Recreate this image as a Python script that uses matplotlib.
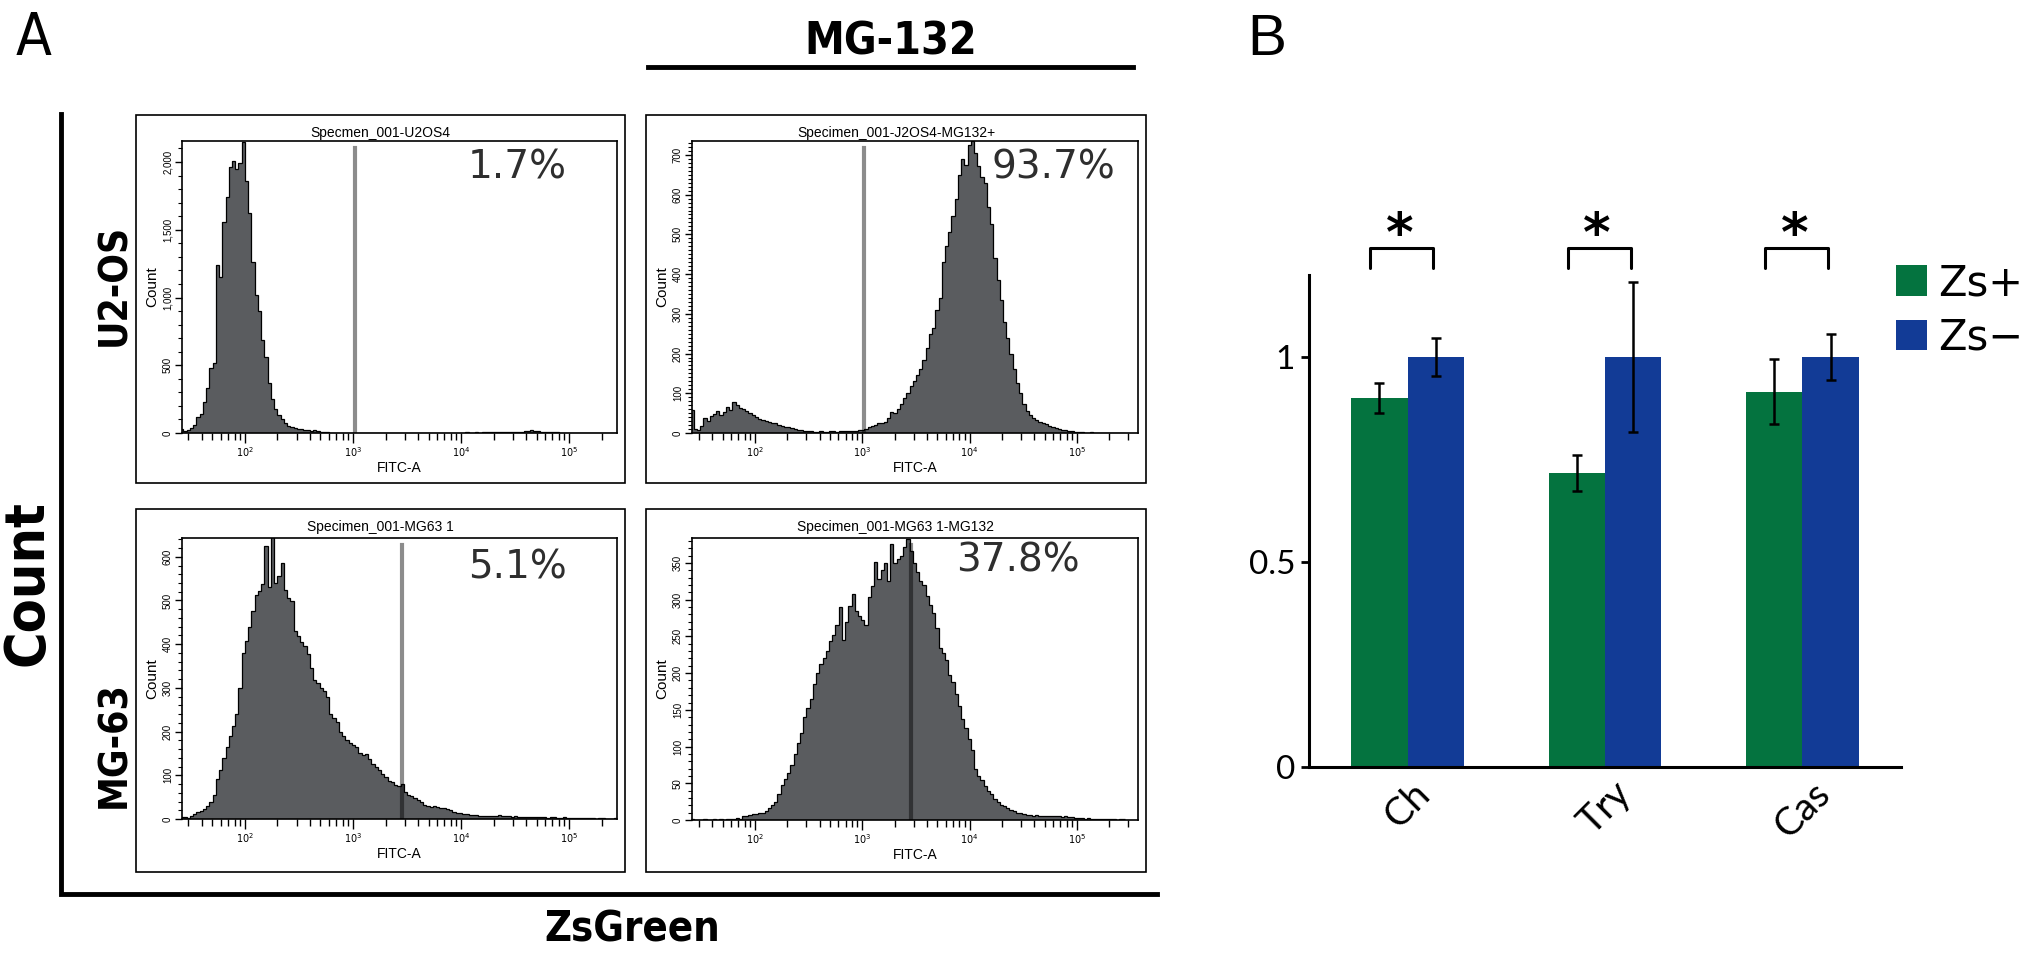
import matplotlib
matplotlib.use('Agg')
import matplotlib.pyplot as plt
import numpy as np
from matplotlib import font_manager
from matplotlib.font_manager import FontProperties
from matplotlib.lines import Line2D
from matplotlib.patches import Rectangle
from matplotlib.ticker import FixedLocator, LogLocator, MultipleLocator, NullFormatter

W, H = 2031, 959

installed = {f.name for f in font_manager.fontManager.ttflist}
NARROW = 'Liberation Sans Narrow' if 'Liberation Sans Narrow' in installed else 'Liberation Sans'
SANS = 'Liberation Sans'


def weight_num(wt):
    if isinstance(wt, (int, float)):
        return int(wt)
    return {'bold': 700, 'normal': 400, 'regular': 400, 'book': 400}.get(str(wt).lower(), 400)


def condensed_font(bold):
    # look for any narrow / condensed face, the labels of panel A use one
    for f in font_manager.fontManager.ttflist:
        nm = f.name.lower()
        st = str(f.stretch).lower()
        narrow = ('narrow' in nm or 'condensed' in nm or
                  st in ('condensed', 'semi-condensed', 'extra-condensed'))
        wok = weight_num(f.weight) >= 700 if bold else weight_num(f.weight) < 600
        if narrow and wok and f.style == 'normal':
            return f.fname
    return None


def label_font(size, bold=True):
    path = condensed_font(bold)
    if path:
        return FontProperties(fname=path, size=size)
    return FontProperties(family=SANS, weight='bold' if bold else 'normal',
                          size=size * 0.85)


# ---------------- panel A: flow histograms (bins in log10 FITC-A) ----------------
LOG_START = 1.40
LOG_STEP = 0.03

u2os = [30, 18, 25, 35, 60, 120, 140, 230, 330, 480,
        520, 1240, 1150, 1560, 1740, 1960, 2010, 1950, 1990, 2150,
        1860, 1620, 1260, 1020, 900, 690, 560, 370, 250, 180,
        135, 100, 75, 50, 42, 35, 30, 28, 25, 22,
        18, 20, 12, 8, 6,
        4, 3, 3, 2, 3, 2, 2, 3, 2, 2, 2, 3, 2, 2, 1, 2, 2, 2, 1, 2,
        2, 1, 2, 2, 1, 1, 2, 2, 1, 2, 1, 2, 2, 1, 2, 3, 2, 2, 3, 2,
        3, 3, 2, 4, 3, 3, 4, 3, 4, 5, 4, 5, 6, 5, 6, 7, 6, 8, 7, 9,
        10, 12, 15, 19, 17, 14, 11, 8,
        6, 5, 4, 4, 3, 3, 3, 2, 2, 2, 3, 2, 2, 1, 2, 1, 1, 1, 2, 1, 1, 1]

u2os_mg132 = [57, 11, 8, 18, 38, 30, 42, 48, 55, 45,
              52, 66, 58, 78, 70, 62, 60, 55, 50, 46,
              40, 36, 32, 30, 28, 26, 24, 20, 17, 16,
              14, 12, 10, 8, 7, 5, 4, 4, 3, 3,
              4, 3, 3, 4, 4, 3, 4, 5, 4, 5,
              6, 5, 7, 8, 10, 14, 18, 20, 24, 26,
              28, 38, 53, 50, 60, 72, 88, 100, 118, 130,
              145, 160, 185, 215, 250, 265, 310, 340, 430, 470,
              505, 545, 590, 650, 690, 675, 725, 735, 705, 672,
              645, 630, 570, 525, 440, 385, 335, 280, 240, 200,
              160, 125, 100, 72, 55, 45, 38, 32, 27, 25,
              22, 18, 16, 12, 10, 8, 7, 5, 4, 3,
              2, 2, 1, 1, 2, 1, 1, 0, 1, 1, 0, 1, 1, 0, 1]

mg63 = [5, 4, 3, 8, 12, 15, 18, 22, 30, 38,
        55, 92, 112, 140, 165, 190, 212, 240, 300, 380,
        408, 440, 475, 512, 522, 538, 625, 530, 645, 540,
        555, 585, 525, 505, 498, 430, 418, 405, 395, 378,
        345, 318, 312, 300, 292, 280, 240, 230, 222, 200,
        190, 180, 175, 170, 165, 150, 146, 148, 138, 125,
        120, 112, 102, 95, 88, 84, 78, 76, 80, 62,
        56, 52, 48, 44, 38, 33, 30, 28, 29, 27,
        26, 25, 22, 20, 17, 14, 13, 12, 11, 10,
        9, 9, 8, 8, 7, 8, 7, 6, 9, 8,
        6, 6, 5, 6, 5,
        5, 4, 5, 5, 4, 5, 4, 4, 3, 4, 4, 3, 3, 4, 3,
        2, 3, 3, 2, 2, 3, 2, 2, 1, 2, 2, 1, 1, 1, 2]

mg63_mg132 = [2, 0, 0, 0, 1, 0, 0, 1, 0, 1,
              0, 1, 2, 1, 3, 2, 5, 6, 7, 8,
              8, 9, 10, 12, 17, 21, 25, 36, 48, 56,
              64, 75, 90, 105, 118, 140, 152, 165, 185, 200,
              212, 220, 230, 244, 252, 265, 290, 245, 270, 292,
              308, 285, 278, 272, 265, 303, 318, 352, 328, 340,
              350, 326, 376, 350, 356, 360, 372, 382, 366, 350,
              338, 325, 320, 305, 293, 282, 262, 234, 228, 218,
              198, 188, 172, 155, 138, 125, 110, 96, 70, 60,
              54, 46, 40, 35, 28, 24, 21, 19, 16, 14,
              12, 10, 9, 8, 7,
              7, 6, 7, 6, 6, 5, 6, 5, 5, 5, 4, 5, 4, 4, 3,
              3, 3, 2, 3, 2, 2, 2, 1, 2, 1, 1, 1, 0, 1, 1]

hist_counts = [u2os, u2os_mg132, mg63, mg63_mg132]
hist_titles = ['Specmen_001-U2OS4', 'Specimen_001-J2OS4-MG132+',
               'Specimen_001-MG63 1', 'Specimen_001-MG63 1-MG132']
percent_labels = ['1.7%', '93.7%', '5.1%', '37.8%']
gate_log = [3.02, 3.02, 3.45, 3.45]
y_max = [2155, 735, 643, 384]
y_major = [[0, 500, 1000, 1500, 2000],
           [0, 100, 200, 300, 400, 500, 600, 700],
           [0, 100, 200, 300, 400, 500, 600],
           [0, 50, 100, 150, 200, 250, 300, 350]]
y_minor_step = [100, 10, 20, 10]
x_major = [1e2, 1e3, 1e4, 1e5]
x_major_labels = ['$10^2$', '$10^3$', '$10^4$', '$10^5$']

# ---------------- panel B: bar chart ----------------
categories = ['Ch', 'Try', 'Cas']
zs_pos = [0.900, 0.717, 0.915]
zs_neg = [1.0, 1.0, 1.0]
zs_pos_err = [0.037, 0.044, 0.079]
zs_neg_err = [0.046, 0.183, 0.057]
series_labels = ['Zs+', 'Zs\u2212']

GREEN = '#04733f'
BLUE = '#123b96'
FILL = '#5a5c5f'


def fx(x):
    return x / W


def fy(y):
    return 1 - y / H


fig = plt.figure(figsize=(W / 100, H / 100), dpi=100)


def px_axes(x0, y0, x1, y1):
    return fig.add_axes([x0 / W, 1 - y1 / H, (x1 - x0) / W, (y1 - y0) / H])


# layout of the four histogram panels (pixels): outer box, inner axes, x limits in log10
outer_boxes = [(136, 115, 625, 483), (646, 115, 1146, 483),
               (136, 509, 625, 872), (646, 509, 1146, 872)]
inner_boxes = [(182, 141, 617, 433), (692, 141, 1138, 433),
               (182, 538, 617, 819), (692, 538, 1138, 820)]
x_lims = [(1.417, 5.444), (1.414, 5.567), (1.417, 5.444), (1.414, 5.567)]
pct_pos = [(0.77, 0.91), (0.81, 0.91), (0.77, 0.895), (0.73, 0.92)]

for k in range(4):
    ox0, oy0, ox1, oy1 = outer_boxes[k]
    fig.add_artist(Rectangle((fx(ox0), fy(oy1)), fx(ox1) - fx(ox0), fy(oy0) - fy(oy1),
                             transform=fig.transFigure, fill=False, lw=1.2, ec='k'))
    ax = px_axes(*inner_boxes[k])
    counts = np.array(hist_counts[k], dtype=float)
    edges = 10 ** (LOG_START + LOG_STEP * np.arange(len(counts) + 1))
    ax.stairs(counts, edges, fill=True, color=FILL, baseline=0)
    ax.stairs(counts, edges, color='k', lw=0.9, baseline=None)
    ax.axvline(10 ** gate_log[k], ymin=0, ymax=0.975, color='k', alpha=0.45, lw=3)
    ax.set_xscale('log')
    ax.set_xlim(10 ** x_lims[k][0], 10 ** x_lims[k][1])
    ax.set_ylim(0, y_max[k])
    ax.xaxis.set_major_locator(FixedLocator(x_major))
    ax.set_xticklabels(x_major_labels)
    ax.xaxis.set_minor_locator(LogLocator(base=10, subs=np.arange(2, 10)))
    ax.xaxis.set_minor_formatter(NullFormatter())
    ax.yaxis.set_major_locator(FixedLocator(y_major[k]))
    ax.set_yticklabels([f'{v:,}' for v in y_major[k]], rotation=90, va='center',
                       family=NARROW)
    ax.yaxis.set_minor_locator(MultipleLocator(y_minor_step[k]))
    ax.tick_params(axis='x', which='major', length=7, width=1, labelsize=7, pad=2)
    ax.tick_params(axis='x', which='minor', length=5, width=1)
    ax.tick_params(axis='y', which='major', length=5, width=1, labelsize=7, pad=1.5)
    ax.tick_params(axis='y', which='minor', length=3, width=0.8)
    for s in ax.spines.values():
        s.set_linewidth(1.2)
    ax.set_xlabel('FITC-A', fontsize=10, family=SANS, labelpad=1)
    ax.set_ylabel('Count', fontsize=11, family=SANS, labelpad=3)
    ax.text(pct_pos[k][0], pct_pos[k][1], percent_labels[k], transform=ax.transAxes,
            ha='center', va='center', fontsize=28, color='#2e2e2e', family='DejaVu Sans')
    fig.text(fx((ox0 + ox1) / 2), fy(oy0 + 18), hist_titles[k], ha='center', va='center',
             fontsize=10, family=SANS)

# frame and labels of panel A
fig.add_artist(Line2D([fx(61), fx(61), fx(1157)], [fy(114), fy(894), fy(894)],
                      transform=fig.transFigure, color='k', lw=3.5,
                      solid_joinstyle='miter'))
fig.add_artist(Line2D([fx(648), fx(1133)], [fy(67), fy(67)],
                      transform=fig.transFigure, color='k', lw=3.5))
fig.text(fx(16), fy(55), 'A', va='baseline', fontproperties=label_font(42, bold=False))
fig.text(fx(1247), fy(55), 'B', fontsize=42, family=SANS, va='baseline')
fig.text(fx(891), fy(42), 'MG-132', ha='center', va='center',
         fontproperties=label_font(32))
fig.text(fx(28), fy(583), 'Count', rotation=90, ha='center', va='center',
         fontproperties=label_font(40))
fig.text(fx(114), fy(285), 'U2-OS', rotation=90, ha='center', va='center',
         fontproperties=label_font(28))
fig.text(fx(114), fy(745), 'MG-63', rotation=90, ha='center', va='center',
         fontproperties=label_font(28))
fig.text(fx(632), fy(930), 'ZsGreen', ha='center', va='center',
         fontproperties=label_font(30))

# ---------------- panel B ----------------
bx = px_axes(1309, 275, 1901, 767)
x = np.arange(len(categories))
w = 0.286
ekw = dict(elinewidth=1.8, capthick=1.8, ecolor='k')
b1 = bx.bar(x - w / 2, zs_pos, w, color=GREEN, yerr=zs_pos_err, capsize=3.5,
            error_kw=ekw, label=series_labels[0])
b2 = bx.bar(x + w / 2, zs_neg, w, color=BLUE, yerr=zs_neg_err, capsize=3.5,
            error_kw=ekw, label=series_labels[1])
bx.set_xlim(-0.5, 2.5)
bx.set_ylim(0, 1.2)
for side in ['top', 'right']:
    bx.spines[side].set_visible(False)
for side in ['left', 'bottom']:
    bx.spines[side].set_linewidth(2.2)
bx.set_yticks([0, 0.5, 1])
bx.set_yticklabels(['0', '0.5', '1'], family='Lato', fontsize=24)
bx.set_xticks(x)
bx.set_xticklabels(categories, rotation=45, ha='center', va='top', family='Lato',
                   fontsize=28)
bx.tick_params(axis='x', length=0, pad=6)
bx.tick_params(axis='y', length=6, width=2, pad=4)

# significance brackets
for i in range(len(categories)):
    bx.plot([i - 0.19, i - 0.19, i + 0.13, i + 0.13], [1.216, 1.267, 1.267, 1.216],
            color='k', lw=2.2, clip_on=False, solid_joinstyle='round',
            solid_capstyle='round')
    bx.text(i - 0.04, 1.295, '*', ha='center', va='center', fontsize=38,
            fontweight='bold', clip_on=False, family='DejaVu Sans')

bx.legend(handles=[b1, b2], loc='upper left', bbox_to_anchor=(fx(1896), fy(262)),
          bbox_transform=fig.transFigure, frameon=False,
          prop={'family': 'DejaVu Sans', 'size': 30},
          handlelength=0.75, handleheight=0.75, handletextpad=0.25,
          labelspacing=0.3, borderpad=0, borderaxespad=0)

fig.savefig('out.png', dpi=100)
